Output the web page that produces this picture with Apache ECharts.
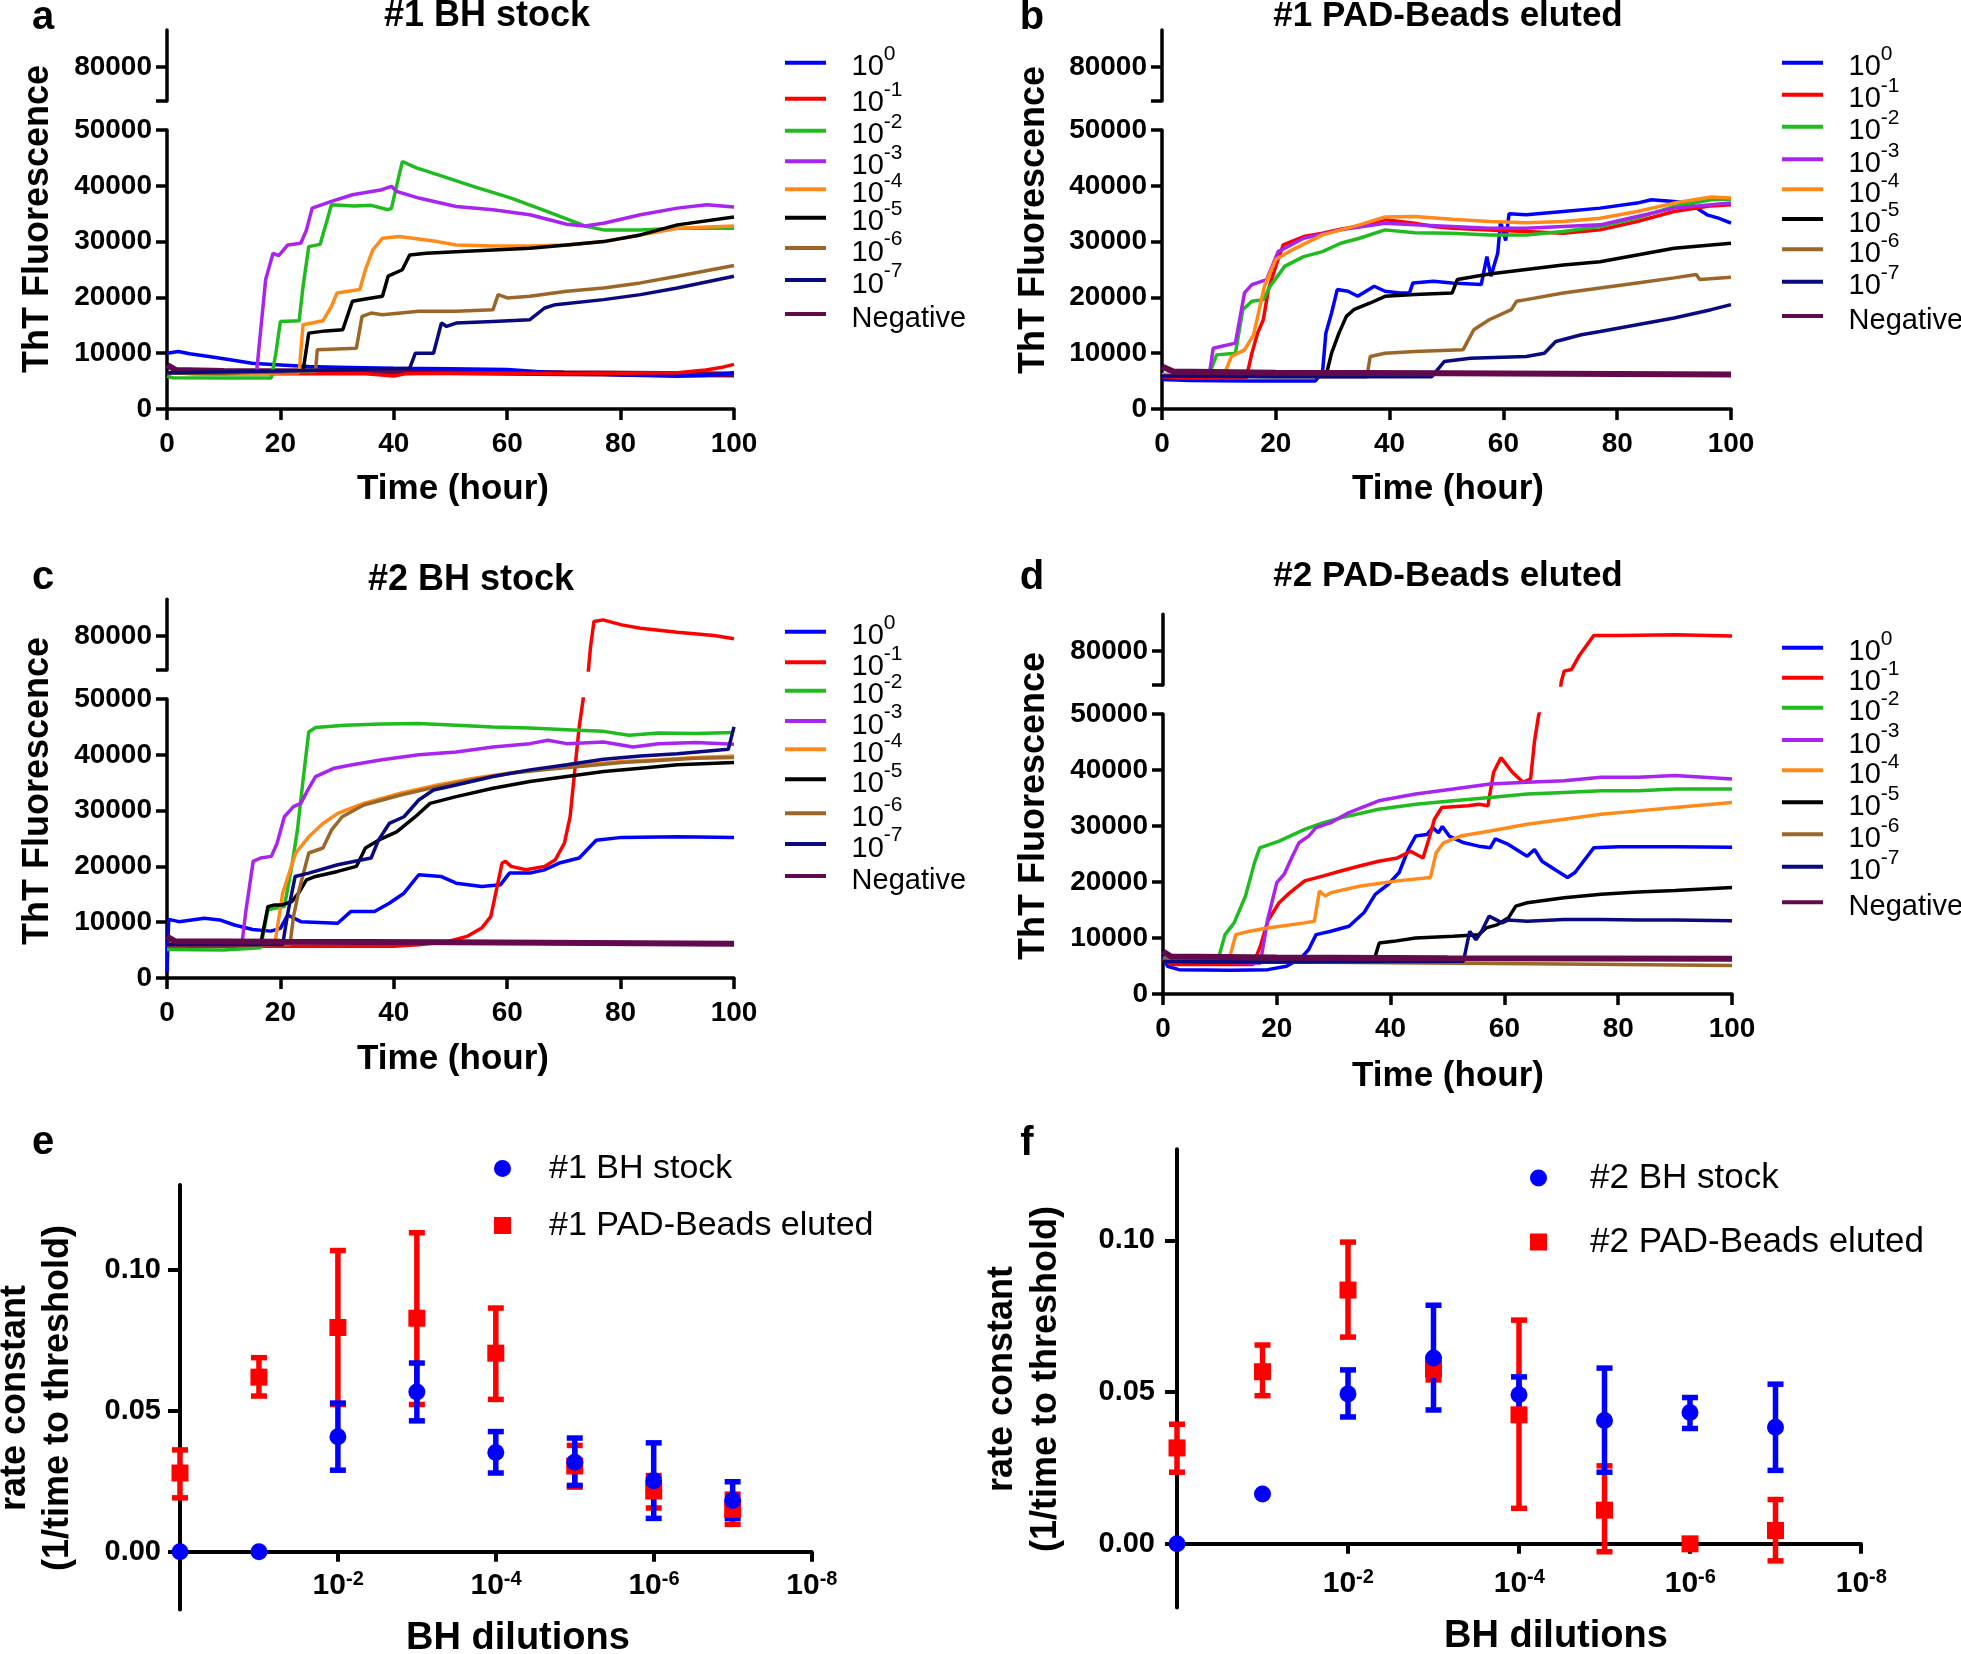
<!DOCTYPE html>
<html><head><meta charset="utf-8">
<script src="https://cdn.jsdelivr.net/npm/echarts@6/dist/echarts.min.js"></script>
<style>html,body{margin:0;padding:0;background:#fff}#c{width:1961px;height:1654px}</style>
</head><body><div id="c"></div>
<script>
// ---------- legend / category labels ----------
const dilutionLabels = ['10^0','10^-1','10^-2','10^-3','10^-4','10^-5','10^-6','10^-7','Negative'];
const lineColors = ['#0000FF','#FF0000','#1FBB1F','#A824F0','#FF8A1A','#000000','#9C6628','#0A0A80','#620A4C'];
const timeTicks = [0,20,40,60,80,100];
const fluorTicks = [0,10000,20000,30000,40000,50000];
const upperTicks = [80000];

// ---------- panel a: #1 BH stock  [hour, ThT] ----------
const A0 = [[0,10000],[2,10300],[4,9900],[7.4,9400],[10,9000],[15,8200],[20,7900],[25,7600],[30,7500],[40,7300],[50,7200],[60,7100],[67,6600],[75,6300],[80,6100],[90,5850],[95,6000],[100,6500]];
const A1 = [[0,6500],[5,6300],[15,6300],[25,6350],[35,6300],[40,5900],[42,6300],[50,6400],[60,6400],[70,6300],[80,6400],[90,6500],[95,7000],[98,7500],[100,8000]];
const A2 = [[0,5900],[1,5600],[10,5550],[18.4,5550],[19.2,10000],[20,15700],[23.3,15800],[24,22000],[25,29100],[27,29500],[28,33000],[29,36600],[33,36400],[36,36500],[39,35700],[39.6,36000],[40.5,40000],[41.5,44350],[44,43200],[47.7,42000],[54,39900],[60.7,37800],[67,35400],[73.7,32800],[77,32100],[83.5,32100],[90,32400],[100,32400]];
const A3 = [[0,6500],[10,6300],[15.8,6600],[17.4,23200],[18.7,27900],[19.7,27500],[21.3,29400],[23.6,29700],[24.6,32100],[25.6,36000],[29,37200],[32.7,38400],[37.9,39300],[39.6,39900],[40.5,39000],[44.4,37800],[51,36300],[57.5,35700],[64,34800],[70.5,33100],[73.7,32800],[77,33300],[83.5,34800],[90,36000],[95.2,36600],[100,36200]];
const A4 = [[0,6500],[10,6300],[23.3,6500],[24,15100],[27.5,15800],[29,18400],[30,20800],[34,21400],[35,25000],[36.3,28500],[38,30600],[41,30900],[47.7,30000],[51,29400],[57.5,29200],[64,29200],[70.5,29400],[77,30000],[83.5,31200],[90,32400],[100,32800]];
const A5 = [[0,6500],[10,6500],[24,6800],[25,13600],[28,14000],[31,14200],[32.7,19300],[35,19700],[38,20200],[39,23800],[41.5,24950],[42.8,27600],[45.7,27900],[51,28200],[57.5,28500],[64,28800],[70.5,29400],[77,30000],[83.5,31200],[90,33000],[100,34400]];
const A6 = [[0,6500],[10,6500],[26.2,6700],[26.5,10600],[33.4,10900],[34.4,16600],[36,17200],[38,16900],[44.4,17500],[51,17500],[57.5,17800],[58.4,20500],[60,19900],[64,20200],[70.5,21100],[77,21700],[83.5,22600],[90,23800],[100,25700]];
const A7 = [[0,6500],[20,6800],[42.8,7300],[43.8,10000],[47,10000],[48.4,15400],[49.3,14800],[51,15400],[57.5,15700],[64,16000],[66.6,18100],[68.5,18700],[77,19600],[83.5,20500],[90,21700],[100,23800]];
const A8 = [[0,7900],[1.5,7000],[10,6800],[30,6700],[50,6600],[70,6400],[100,6200]];

// ---------- panel b: #1 PAD-Beads eluted ----------
const B0 = [[0,5300],[5,5100],[15,5000],[26.9,5000],[28.2,6450],[28.8,13600],[29.8,17200],[30.8,21400],[32.7,21100],[34.4,20200],[37.3,22000],[39.2,21100],[41.8,20800],[43.5,20800],[44.1,22600],[47.7,22900],[51,22600],[56.1,22300],[57.1,27300],[57.8,23800],[59,27900],[59.5,33600],[60.4,30200],[61,35000],[64,34800],[70.5,35400],[77,36000],[83.5,36900],[86,37500],[90,37200],[92.6,36900],[95.8,34800],[97.8,34200],[100,33300]];
const B1 = [[0,5800],[5,5550],[14.8,5550],[15.8,10000],[16.8,13600],[17.8,16000],[18.7,21400],[20,25600],[21.3,29400],[24.9,30900],[28.2,31500],[31.4,32200],[34.7,32800],[39.2,33900],[44.4,33300],[47.7,32700],[51,32400],[57.5,32100],[64,31800],[70.5,31500],[77,32100],[83.5,33600],[90,35400],[96.5,36400],[100,36600]];
const B2 = [[0,6200],[8.3,6150],[9.6,9700],[12.9,10000],[14.2,17800],[15.8,19300],[17.8,19600],[19,22000],[21.6,25600],[24.9,27300],[28.2,28200],[31.4,29700],[34.7,30600],[39.2,32100],[44.4,31600],[51,31500],[57.5,31200],[64,31200],[70.5,31800],[77,32700],[83.5,34200],[90,36300],[96.5,37500],[100,37600]];
const B3 = [[0,6200],[8.3,6150],[9,10900],[12.9,11800],[14.5,20800],[15.8,22300],[18.4,23200],[20.4,28200],[24.9,30600],[31.4,32100],[39.2,33300],[44.4,33000],[51,32700],[57.5,32400],[64,32400],[70.5,32700],[77,33000],[83.5,34500],[90,36000],[96.5,36600],[100,36900]];
const B4 = [[0,6200],[10.9,6150],[12.2,9400],[14.5,10600],[16.1,13300],[18,22000],[20,26800],[22.3,28200],[28.2,31200],[34.7,33000],[39.2,34400],[44.4,34500],[51,34000],[57.5,33600],[64,33400],[70.5,33600],[77,34200],[83.5,35400],[90,36900],[96.5,38000],[100,37800]];
const B5 = [[0,5900],[10,5850],[28.8,5850],[29.8,10000],[31.1,13600],[32.4,16600],[33.7,17800],[36.6,19000],[39.2,20200],[44.4,20500],[51,20800],[51.9,23200],[54.2,23600],[57.5,24200],[64,25000],[70.5,25800],[77,26400],[83.5,27600],[90,28800],[100,29700]];
const B6 = [[0,5900],[20,5800],[36,5800],[36.6,9400],[39.2,10000],[44.4,10300],[52.9,10600],[54.8,14200],[57.5,16000],[61.4,17800],[62.3,19300],[64,19600],[70.5,20800],[77,21700],[83.5,22600],[90,23500],[93.9,24100],[94.5,23200],[100,23600]];
const B7 = [[0,5900],[20,5800],[47.4,5800],[49.6,8500],[54.2,9100],[64,9400],[67.2,10000],[69.2,12100],[73.7,13300],[77,13900],[83.5,15100],[90,16300],[96.5,17800],[100,18700]];
const B8 = [[0,7600],[2,6700],[20,6500],[50,6400],[100,6200]];

// ---------- panel c: #2 BH stock ----------
const C0 = [[0,1000],[0.3,10500],[2.1,10100],[6.6,10700],[9.3,10400],[11.9,9500],[15.1,8700],[18.3,8400],[20,8900],[21.3,11300],[23.6,10100],[30.1,9800],[32.4,11900],[36.6,11900],[39.2,13400],[41.8,15200],[44.4,18500],[48.3,18200],[51,17000],[55.5,16400],[58.8,16700],[60.4,18800],[64,18800],[66.6,19400],[69.2,20600],[72.7,21500],[75.7,24700],[80.2,25200],[90,25300],[100,25200]];
const C1 = [[0,5700],[10,5700],[20,5700],[30,5700],[40,5700],[44.4,5950],[49.6,6550],[52.9,7450],[55.5,8950],[57.1,11000],[58.1,15800],[59.1,20600],[59.7,20900],[60.7,20000],[63.3,19400],[66.6,20000],[68.5,21200],[70.1,24200],[71.1,28900],[72.1,39100],[72.7,45000],[73.4,50000],[74,70000],[74.4,74800],[74.7,78100],[75.3,82600],[76.9,82900],[80.2,82000],[83.5,81400],[90,80700],[96.5,80100],[100,79500]];
const C2 = [[0,5100],[10,5000],[16.5,5400],[17.8,12200],[19,12500],[20.7,12800],[22,20000],[23,26500],[24,35500],[25,44100],[26.2,44900],[31.4,45300],[37.9,45500],[44.4,45600],[51,45300],[57.5,45000],[64,44800],[70.5,44500],[77,44200],[81.5,43500],[86.7,43900],[93.2,43800],[100,44000]];
const C3 = [[0,6000],[13.2,6000],[13.9,11900],[15.2,20900],[16.5,21500],[18.4,21800],[19.4,24100],[20.7,28900],[22.3,30700],[23.6,31300],[25,34000],[26.2,36100],[29.5,37600],[32.7,38200],[37.9,39100],[44.4,40000],[51,40500],[57.5,41400],[64,42000],[67.2,42600],[70.5,42000],[77,42300],[82.2,41400],[86.7,42000],[93.2,42200],[100,41900]];
const C4 = [[0,6000],[19,6000],[20.4,15200],[22.7,22400],[25,25300],[27.5,27700],[30.1,29500],[34.7,31300],[41.2,33100],[47.7,34600],[54.2,35800],[60.7,36800],[67.2,37600],[73.7,38200],[80.2,38800],[86.7,39100],[93.2,39500],[100,39800]];
const C5 = [[0,6000],[16.5,6000],[17.8,12800],[19,13100],[20.3,13100],[22,13700],[23.2,15200],[24.6,17600],[26.2,18200],[30.1,19100],[33.4,20000],[35,23300],[37.3,24700],[40.5,26200],[43.8,28900],[46.4,31300],[51,32500],[57.5,34000],[64,35200],[70.5,36100],[77,37000],[83.5,37600],[90,38200],[100,38600]];
const C6 = [[0,6000],[21.7,6000],[22.3,11000],[23.3,15800],[25,22400],[27.5,23300],[29,26500],[30.9,28900],[34.7,31000],[41.2,32800],[47.7,34300],[54.2,35600],[60.7,36700],[67.2,37400],[73.7,38000],[80.2,38600],[86.7,39000],[93.2,39400],[100,39500]];
const C7 = [[0,6000],[20.4,6000],[21.3,11600],[22.6,18200],[25,18800],[30.1,20300],[36,21500],[37.3,24700],[39.2,27700],[41.8,28900],[44.4,31900],[47,33700],[51,34600],[57.5,36100],[64,37300],[70.5,38200],[77,39200],[83.5,39800],[90,40200],[99,41000],[100,45000]];
const C8 = [[0,7400],[1.4,6600],[20,6500],[50,6400],[100,6150]];

// ---------- panel d: #2 PAD-Beads eluted ----------
const D0 = [[0,6700],[0.8,4950],[2.8,4350],[11.9,4250],[18.4,4350],[21.7,4950],[24.3,6450],[25.6,7950],[26.9,10600],[29.5,11200],[32.7,12100],[35.3,14500],[37.3,17800],[39.6,19600],[41.5,21700],[43.1,25800],[44.4,28200],[46.4,28500],[47.4,29700],[48.4,28800],[49.1,29900],[50.3,28200],[52.9,27000],[55.5,26400],[57.5,26100],[58.4,27700],[60.7,26700],[64,24600],[65.3,25800],[66.6,23700],[69.2,22000],[71.1,20800],[72.4,21700],[75.7,26100],[80.2,26300],[90,26300],[100,26200]];
const D1 = [[0,6150],[1.5,5250],[10,5250],[15.8,5250],[17.1,8500],[18.4,13000],[20.4,16300],[22.3,18100],[24.9,20200],[28.2,21100],[31.4,22000],[34.7,22900],[37.9,23700],[41.2,24300],[43.5,25500],[45.7,24300],[46.7,27600],[47.7,31200],[49,33300],[53.6,33600],[55.5,33900],[57.1,33600],[58.1,39600],[59.4,42200],[61.4,39600],[63.3,37800],[64.6,38400],[65.3,45200],[66,49700],[66.6,52000],[67.5,50500],[68.3,51500],[69.5,70000],[70,74500],[70.5,76400],[71.8,76700],[73.1,79100],[75.7,82800],[80.2,82800],[90,82900],[100,82700]];
const D2 = [[0,6450],[2,5850],[9.6,5850],[10.9,10600],[12.5,12700],[14.5,17500],[16.1,23500],[17,26100],[20.4,27300],[24.9,29400],[28.2,30600],[31.4,31500],[37.9,33000],[44.4,33900],[51,34500],[57.5,35100],[64,35700],[70.5,36000],[77,36300],[83.5,36300],[90,36600],[100,36600]];
const D3 = [[0,6000],[17.1,5500],[18.4,13300],[20,19900],[21.3,21400],[22.6,24300],[23.9,27000],[25.6,28200],[26.9,29700],[29.5,30600],[32.7,32400],[37.9,34500],[44.4,35700],[51,36600],[57.5,37500],[64,37800],[70.5,38100],[77,38700],[83.5,38700],[90,39000],[100,38400]];
const D4 = [[0,6000],[11.5,5700],[12.8,10600],[15.2,11200],[18.4,11800],[24.9,12700],[26.6,13000],[27.5,18400],[28.5,17500],[29.5,18100],[34.7,19300],[41.2,20200],[47,20800],[48,25200],[49.3,27000],[52.3,28200],[57.5,29100],[64,30300],[70.5,31200],[77,32100],[83.5,32700],[90,33300],[100,34200]];
const D5 = [[0,5900],[10,5700],[37,5700],[38,9100],[40.5,9400],[44.4,10000],[51,10300],[55.5,10600],[56.8,11800],[58.8,12400],[60.7,13600],[62,15700],[64,16300],[70.5,17200],[77,17800],[83.5,18200],[90,18500],[100,19000]];
const D6 = [[0,6300],[10,5800],[40,5600],[70,5350],[100,5100]];
const D7 = [[0,5800],[20,5700],[52.8,5850],[53.9,11200],[55,9700],[56,11200],[57.3,13900],[59.6,12700],[60.6,13200],[64,13000],[70.5,13300],[77,13300],[83.5,13200],[90,13200],[100,13100]];
const D8 = [[0,7600],[1.4,6700],[20,6500],[50,6400],[100,6300]];

// ---------- panels e, f: rate constants ----------
const dilExp = [0,1,2,3,4,5,6,7];          // dilution 10^-n
const dilTicks = [2,4,6,8];
const rateTicks = [0,0.05,0.10];
const E_bh_mean = [0,0,0.0408,0.0566,0.0352,0.0317,0.0252,0.0182];
const E_bh_lo   = [0,0,0.0289,0.0464,0.0279,0.0235,0.0118,0.0118];
const E_bh_hi   = [0,0,0.0527,0.0669,0.0426,0.0403,0.0386,0.0248];
const E_pad_mean = [0.0279,0.0619,0.0795,0.0828,0.0704,0.0304,0.0215,0.0150];
const E_pad_lo   = [0.0191,0.0552,0.0522,0.0522,0.0540,0.0229,0.0155,0.0097];
const E_pad_hi   = [0.0361,0.0688,0.1068,0.1131,0.0864,0.0377,0.0270,0.0204];
const F_bh_mean = [0,0.0164,0.0494,0.0612,0.0491,0.0406,0.0433,0.0384];
const F_bh_lo   = [0,0.0164,0.0418,0.0441,0.0433,0.0236,0.0380,0.0242];
const F_bh_hi   = [0,0.0164,0.0573,0.0786,0.0550,0.0579,0.0482,0.0526];
const F_pad_mean = [0.0316,0.0567,0.0836,0.0575,0.0425,0.0111,0,0.0044];
const F_pad_lo   = [0.0236,0.0488,0.0681,0.0540,0.0117,-0.0026,0,-0.0056];
const F_pad_hi   = [0.0394,0.0655,0.0994,0.0605,0.0737,0.0257,0,0.0146];

// =====================================================
const F = "'Liberation Sans', Arial, Helvetica, sans-serif";
const chart = echarts.init(document.getElementById('c'), null, {renderer:'canvas'});

const UMIN = 73900, UMAX = 86600;
// layout per line panel: [left, lowerTop, width, lowerHeight, upperTop]
const geo = [
  [167,130,567,279,30],
  [1162,130,569,279,30],
  [167,699,567,279,599.2],
  [1163,714,569,280,614.2]
];
// legend layout per line panel: left and icon-centre y of each entry
const legLeft = [785, 1782, 785, 1782];
const legY = [
  [62.7,98.7,130.7,161.3,189.3,217.7,248,280,314],
  [62.7,94.7,126.7,159.3,189.3,219,249.3,281.7,316],
  [631.7,662.3,690.7,721,749.3,779.3,813.3,844,876],
  [647.7,677.7,707.7,740,770.3,802.3,834.3,866.7,902.3]
];
const UH = 70.9;
const axLine = {show:true, onZero:false, lineStyle:{color:'#000', width:3.5}};
const tickSt = {show:true, inside:false, length:11, lineStyle:{color:'#000', width:3.5}};
const lblSt = {color:'#000', fontFamily:F, fontWeight:'bold', fontSize:28, lineHeight:30, formatter: v => String(v)};

const grids=[], xAxes=[], yAxes=[], series=[], legends=[];
const panels = [[A0,A1,A2,A3,A4,A5,A6,A7,A8],[B0,B1,B2,B3,B4,B5,B6,B7,B8],[C0,C1,C2,C3,C4,C5,C6,C7,C8],[D0,D1,D2,D3,D4,D5,D6,D7,D8]];
const orders = [[8,0,1,2,3,4,5,6,7],[0,1,2,3,4,5,6,7,8],[0,1,2,3,4,5,6,7,8],[0,1,2,3,4,5,6,7,8]];

function fmtName(n){
  const p = n.split('^');
  return '{h| }{m|' + p[0] + '}{s|' + (p.length > 1 ? p[1] : ' ') + '}';
}
const legRich = {
  h:{fontSize:2, lineHeight:38},
  m:{fontFamily:F, fontSize:29, color:'#000', verticalAlign:'bottom'},
  s:{fontFamily:F, fontSize:21, color:'#000', verticalAlign:'top'}
};

panels.forEach((pdata, p) => {
  const g = geo[p];
  const lo = grids.length, up = lo+1;
  grids.push({left:g[0], top:g[1], width:g[2], height:g[3]});
  grids.push({left:g[0], top:g[4], width:g[2], height:UH});
  xAxes.push({gridIndex:lo, type:'value', min:timeTicks[0], max:timeTicks[timeTicks.length-1], interval:20,
    axisLine:axLine, axisTick:tickSt, splitLine:{show:false},
    axisLabel:Object.assign({margin:20}, lblSt)});
  xAxes.push({gridIndex:up, type:'value', min:0, max:100, show:false});
  yAxes.push({gridIndex:lo, type:'value', min:fluorTicks[0], max:fluorTicks[fluorTicks.length-1], interval:10000,
    axisLine:axLine, axisTick:tickSt, splitLine:{show:false},
    axisLabel:Object.assign({margin:15}, lblSt)});
  yAxes.push({gridIndex:up, type:'value', min:UMIN, max:UMAX,
    axisLine:axLine, axisTick:Object.assign({customValues:[UMIN].concat(upperTicks)}, tickSt), splitLine:{show:false},
    axisLabel:Object.assign({margin:15, customValues:upperTicks}, lblSt)});
  orders[p].forEach(i => {
    const base = {type:'line', name:dilutionLabels[i], data:pdata[i], showSymbol:false, symbol:'none',
      animation:false, clip:true, lineStyle:{color:lineColors[i], width:i===8?6:3.5}, itemStyle:{color:lineColors[i]}};
    series.push(Object.assign({xAxisIndex:lo, yAxisIndex:lo}, base));
    if (pdata[i].some(pt => pt[1] > UMIN)) series.push(Object.assign({xAxisIndex:up, yAxisIndex:up}, base));
  });
  dilutionLabels.forEach((name, i) => {
    legends.push({orient:'vertical', left:legLeft[p], top:legY[p][i]-19, padding:0, itemWidth:41, itemHeight:4,
      icon:'rect', selectedMode:false, data:[name], formatter:fmtName,
      textStyle:{fontFamily:F, fontSize:29, color:'#000', padding:[0,0,0,20], rich:legRich}});
  });
});

// e and f
const sc = [
  {left:180, top:1185.1, width:631.6, height:424.4, min:-0.0205, ylm:19, xlm:18},
  {left:1177, top:1149.2, width:684, height:458.4, min:-0.021, ylm:22, xlm:24}
];
sc.forEach(s => {
  const gi = grids.length;
  grids.push({left:s.left, top:s.top, width:s.width, height:s.height});
  const zeroOff = -s.height * (0 - s.min) / (0.13 - s.min);
  xAxes.push({gridIndex:gi, type:'value', min:0, max:8, offset:zeroOff,
    axisLine:{show:true, onZero:false, lineStyle:{color:'#000', width:4}},
    axisTick:Object.assign({customValues:dilTicks}, tickSt, {length:10, lineStyle:{color:'#000', width:4}}), splitLine:{show:false},
    axisLabel:{customValues:dilTicks, margin:s.xlm, color:'#000', fontFamily:F, fontWeight:'bold', fontSize:30,
      formatter: v => '{h| }{m|10}{s|-' + v + '}',
      rich:{h:{fontSize:2, lineHeight:31},
            m:{fontFamily:F, fontWeight:'bold', fontSize:30, color:'#000', verticalAlign:'bottom'},
            s:{fontFamily:F, fontWeight:'bold', fontSize:20, color:'#000', verticalAlign:'top'}}}});
  yAxes.push({gridIndex:gi, type:'value', min:s.min, max:0.13,
    axisLine:{show:true, onZero:false, lineStyle:{color:'#000', width:4}},
    axisTick:Object.assign({customValues:rateTicks}, tickSt, {length:12, lineStyle:{color:'#000', width:4}}), splitLine:{show:false},
    axisLabel:{customValues:rateTicks, margin:s.ylm, color:'#000', fontFamily:F, fontWeight:'bold', fontSize:29,
      formatter: v => v.toFixed(2)}});
});

function errBar(color){
  return function(params, api){
    const x = api.value(0), lo = api.value(1), hi = api.value(2);
    const a = api.coord([x, lo]), b = api.coord([x, hi]);
    const hw = 8, st = {stroke:color, lineWidth:5.5};
    return {type:'group', children:[
      {type:'line', shape:{x1:a[0], y1:a[1], x2:b[0], y2:b[1]}, style:st},
      {type:'line', shape:{x1:a[0]-hw, y1:a[1], x2:a[0]+hw, y2:a[1]}, style:st},
      {type:'line', shape:{x1:b[0]-hw, y1:b[1], x2:b[0]+hw, y2:b[1]}, style:st}
    ]};
  };
}
function addScatter(gi, name, mean, lo, hi, color, symbol){
  series.push({type:'custom', name:name+' err', xAxisIndex:gi, yAxisIndex:gi, animation:false,
    data: dilExp.map((x,i)=>[x, lo[i], hi[i]]).filter(d => d[2] > d[1]),
    encode:{x:0, y:[1,2]}, renderItem: errBar(color)});
  series.push({type:'scatter', name, xAxisIndex:gi, yAxisIndex:gi, animation:false, symbol, symbolSize:17,
    itemStyle:{color, opacity:1}, data: dilExp.map((x,i)=>[x, mean[i]])});
}
addScatter(8, '#1 PAD-Beads eluted', E_pad_mean, E_pad_lo, E_pad_hi, '#FF0000', 'rect');
addScatter(8, '#1 BH stock', E_bh_mean, E_bh_lo, E_bh_hi, '#0000FF', 'circle');
addScatter(9, '#2 PAD-Beads eluted', F_pad_mean, F_pad_lo, F_pad_hi, '#FF0000', 'rect');
addScatter(9, '#2 BH stock', F_bh_mean, F_bh_lo, F_bh_hi, '#0000FF', 'circle');

function scLegend(left, top, gap, names, fs, pad){
  return {orient:'vertical', left, top, padding:0, itemWidth:17, itemHeight:17, itemGap:gap, selectedMode:false,
    data:[{name:names[0], icon:'circle'},{name:names[1], icon:'rect'}],
    textStyle:{fontFamily:F, fontSize:fs, color:'#000', lineHeight:32, padding:[0,0,0,pad]}};
}
legends.push(scLegend(494, 1151.5, 23, ['#1 BH stock','#1 PAD-Beads eluted'], 34, 33));
legends.push(scLegend(1530, 1160.5, 29, ['#2 BH stock','#2 PAD-Beads eluted'], 35, 38));

// texts
function txt(text, x, y, size, bold, rot){
  return {type:'text', x, y, rotation:rot||0, silent:true,
    style:{text, fontSize:size, fontWeight:bold?'bold':'normal', fontFamily:F, fill:'#000',
      align:'center', verticalAlign:'middle', textAlign:'center', textVerticalAlign:'middle'}};
}
const R = Math.PI/2;
const graphics = [
  txt('a', 43, 18, 40, true), txt('b', 1032, 18, 40, true), txt('c', 43, 578, 40, true),
  txt('d', 1032, 578, 40, true), txt('e', 43, 1143, 40, true), txt('f', 1027, 1144, 40, true),
  txt('#1 BH stock', 487, 16.5, 36, true), txt('#1 PAD-Beads eluted', 1448, 16.5, 35, true),
  txt('#2 BH stock', 471, 580.5, 36, true), txt('#2 PAD-Beads eluted', 1448, 576.5, 35, true),
  txt('Time (hour)', 453, 489, 35, true), txt('Time (hour)', 1448, 489, 35, true),
  txt('Time (hour)', 453, 1059, 35, true), txt('Time (hour)', 1448, 1076, 35, true),
  txt('ThT Fluorescence', 38, 219, 36, true, R), txt('ThT Fluorescence', 1034, 220, 36, true, R),
  txt('ThT Fluorescence', 38, 791, 36, true, R), txt('ThT Fluorescence', 1034, 806, 36, true, R),
  txt('rate constant', 15, 1398, 36, true, R), txt('(1/time to threshold)', 58.5, 1398, 36, true, R),
  txt('rate constant', 1002, 1379, 36, true, R), txt('(1/time to threshold)', 1046, 1379, 36, true, R),
  txt('BH dilutions', 518, 1639, 38, true), txt('BH dilutions', 1556, 1636.5, 38, true)
];

chart.setOption({
  animation:false, backgroundColor:'#ffffff',
  grid:grids, xAxis:xAxes, yAxis:yAxes, series, legend:legends, graphic:graphics
});
</script></body></html>
